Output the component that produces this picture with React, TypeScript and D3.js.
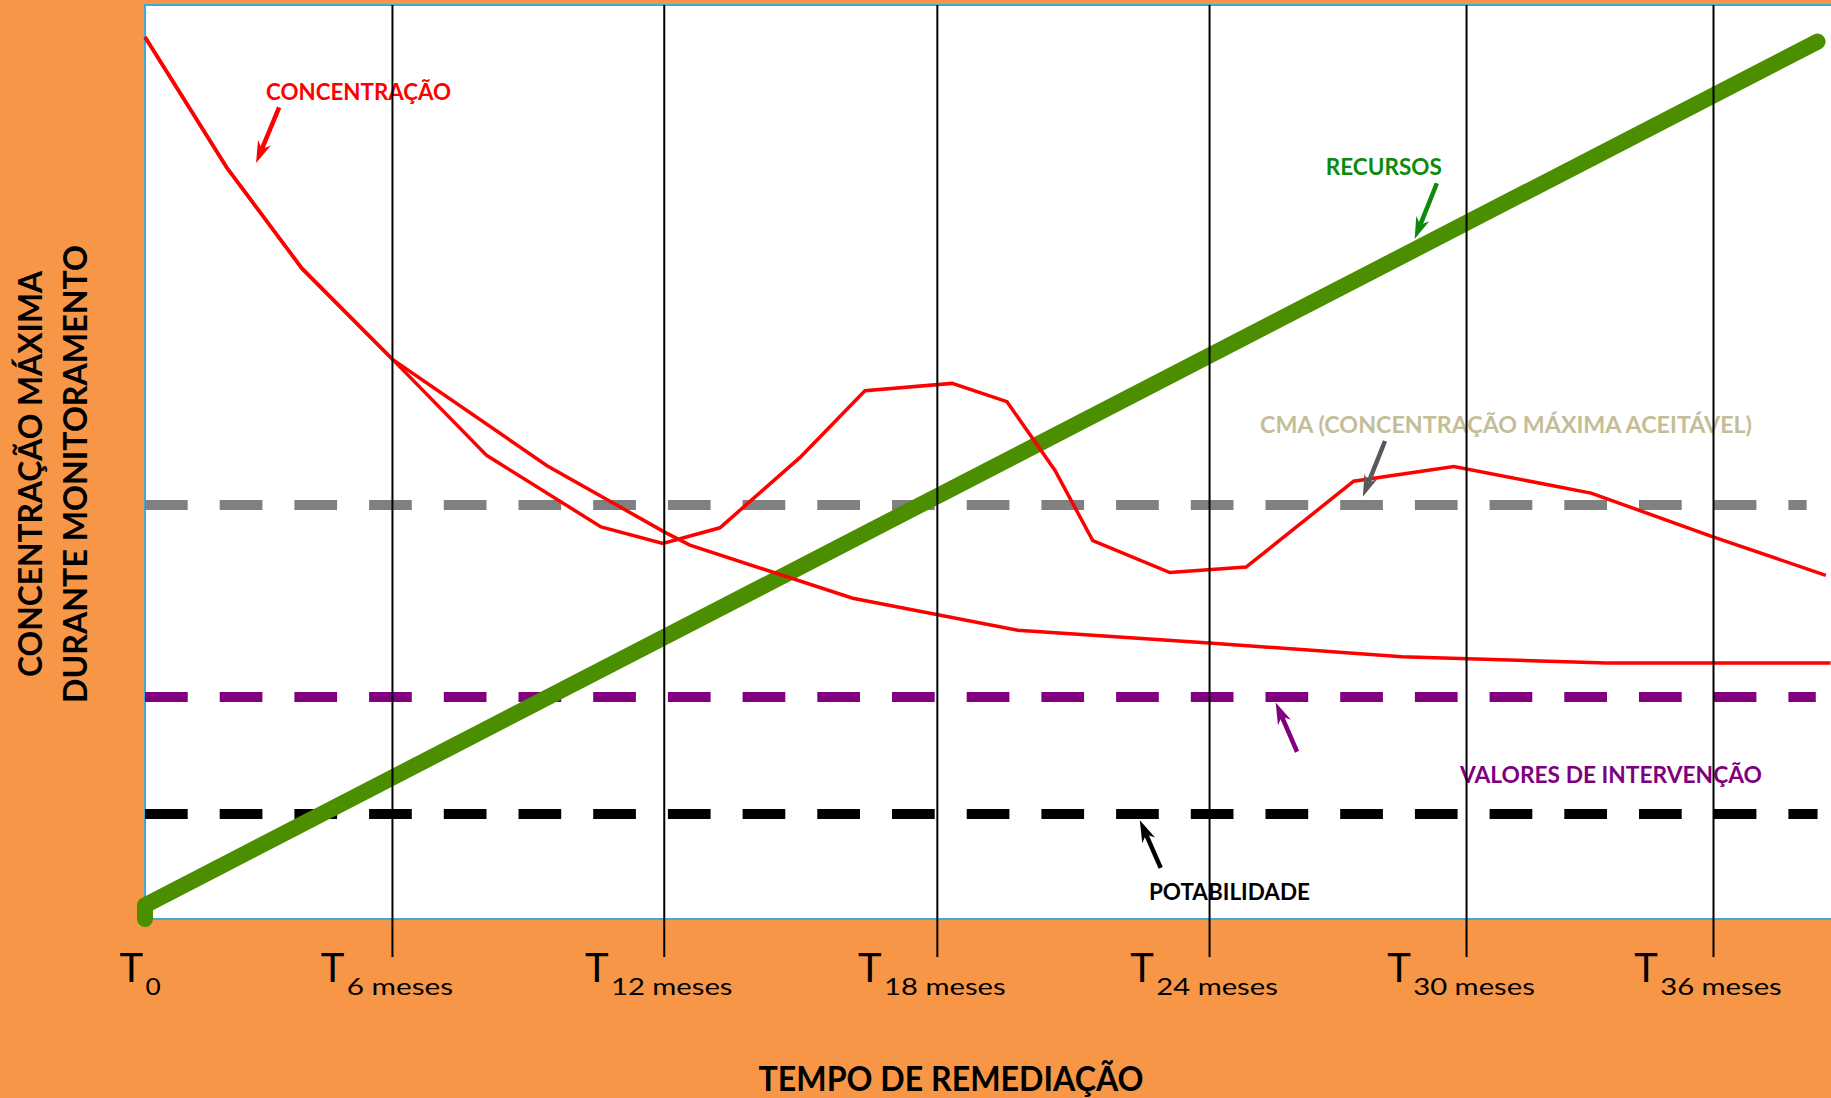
import React, { useEffect, useRef } from 'react'
import * as d3 from 'd3'

// positions of the month markers (months)
const tickAt = [0, 5.67, 11.91, 18.18, 24.43, 30.33, 36]
const tickSub = ['0', '6 meses', '12 meses', '18 meses', '24 meses', '30 meses', '36 meses']

// concentration curve that keeps falling
const decayX = [0, 1.88, 3.6, 5.69, 9.23, 11.94, 12.51, 16.25, 20.04, 24.43, 28.86, 33.56, 38.7]
const decayY = [96.5, 82.2, 71.2, 61.2, 49.6, 42.3, 40.9, 35.1, 31.6, 30.2, 28.7, 28.0, 28.0]

// concentration curve with rebounds
const reboundX = [0, 1.88, 3.6, 5.69, 7.85, 10.47, 11.89, 13.2, 15.04, 16.53, 18.53, 19.79, 20.89, 21.76, 23.53, 25.28, 27.75, 30.05, 33.2, 35.95, 38.59]
const reboundY = [96.5, 82.2, 71.2, 61.2, 50.7, 42.9, 41.1, 42.8, 50.5, 57.8, 58.6, 56.6, 49.1, 41.4, 37.9, 38.5, 47.9, 49.5, 46.6, 41.9, 37.6]

// resources spent
const recursosX = [0, 0, 38.4]
const recursosY = [0, 1.5, 96]

// reference levels
const limitNames = ['CMA', 'INTERVENCAO', 'POTABILIDADE']
const limitValues = [45.3, 24.3, 11.5]
const limitEnds = [38.15, 38.36, 38.4]
const limitColors = ['#808080', '#800080', '#000000']

// annotations: label, text anchor (month, value), arrow start, arrow tip
const noteText = ['CONCENTRAÇÃO', 'RECURSOS', 'CMA (CONCENTRAÇÃO MÁXIMA ACEITÁVEL)', 'VALORES DE INTERVENÇÃO', 'POTABILIDADE']
const noteX = [2.78, 27.11, 25.6, 30.19, 23.05]
const noteY = [89.6, 81.4, 53.2, 14.9, 2.1]
const noteWidth = [185, 116, 492, 302, 161]
const noteColor = ['#ff0000', '#0b8a0b', '#c4bd97', '#7f007f', '#000000']
const arrowColor = ['#ff0000', '#0b8a0b', '#595959', '#800080', '#000000']
const arrowFrom = [[3.08, 88.8], [29.66, 80.5], [28.47, 52.3], [26.45, 18.3], [23.32, 5.6]]
const arrowTo = [[2.55, 82.7], [29.15, 74.4], [27.96, 46.2], [25.96, 23.7], [22.84, 10.8]]

export default function App() {
  const svgRef = useRef<SVGSVGElement>(null)

  useEffect(() => {
    if (!svgRef.current) return
    const svg = d3.select(svgRef.current)
    svg.selectAll('*').remove()

    const width = 1831
    const height = 1098
    const margin = { top: 5, left: 145, bottom: 179 }
    const plotBottom = height - margin.bottom

    const x = d3.scaleLinear().domain([0, 36]).range([margin.left, 1713])
    const y = d3.scaleLinear().domain([0, 100]).range([plotBottom, margin.top])

    svg.append('rect').attr('width', width).attr('height', height).attr('fill', '#f79646')

    svg
      .append('rect')
      .attr('x', margin.left)
      .attr('y', margin.top)
      .attr('width', width - margin.left + 20)
      .attr('height', plotBottom - margin.top)
      .attr('fill', '#ffffff')
      .attr('stroke', '#3fa9dd')
      .attr('stroke-width', 2)

    const line = d3
      .line<[number, number]>()
      .x((d) => x(d[0]))
      .y((d) => y(d[1]))

    // dashed reference levels
    limitNames.forEach((name, i) => {
      svg
        .append('path')
        .attr('class', `limit-${name}`)
        .attr('d', line([[0, limitValues[i]], [limitEnds[i], limitValues[i]]]))
        .attr('fill', 'none')
        .attr('stroke', limitColors[i])
        .attr('stroke-width', 10)
        .attr('stroke-dasharray', '42.7,32')
    })

    // resources
    svg
      .append('path')
      .attr('d', line(recursosX.map((v, i) => [v, recursosY[i]] as [number, number])))
      .attr('fill', 'none')
      .attr('stroke', '#4b8f00')
      .attr('stroke-width', 16)
      .attr('stroke-linecap', 'round')
      .attr('stroke-linejoin', 'round')

    // concentration curves
    ;[
      decayX.map((v, i) => [v, decayY[i]] as [number, number]),
      reboundX.map((v, i) => [v, reboundY[i]] as [number, number]),
    ].forEach((pts) => {
      svg
        .append('path')
        .attr('d', line(pts))
        .attr('fill', 'none')
        .attr('stroke', '#ff0000')
        .attr('stroke-width', 3.5)
    })

    // annotations with arrows
    noteText.forEach((t, i) => {
      svg
        .append('text')
        .attr('x', x(noteX[i]))
        .attr('y', y(noteY[i]))
        .attr('textLength', noteWidth[i])
        .attr('lengthAdjust', 'spacingAndGlyphs')
        .style('font-family', 'Lato, sans-serif')
        .style('font-weight', '700')
        .style('font-size', '22px')
        .style('fill', noteColor[i])
        .text(t)

      const x1 = x(arrowFrom[i][0])
      const y1 = y(arrowFrom[i][1])
      const x2 = x(arrowTo[i][0])
      const y2 = y(arrowTo[i][1])
      const ang = Math.atan2(y2 - y1, x2 - x1)
      const headLen = 22
      const half = 7
      const bx = x2 - headLen * Math.cos(ang)
      const by = y2 - headLen * Math.sin(ang)
      const nx = x2 - headLen * 0.7 * Math.cos(ang)
      const ny = y2 - headLen * 0.7 * Math.sin(ang)
      const px = -Math.sin(ang)
      const py = Math.cos(ang)
      svg
        .append('line')
        .attr('x1', x1)
        .attr('y1', y1)
        .attr('x2', nx)
        .attr('y2', ny)
        .attr('stroke', arrowColor[i])
        .attr('stroke-width', 4.5)
      svg
        .append('path')
        .attr(
          'd',
          `M${x2},${y2}L${bx + px * half},${by + py * half}L${nx},${ny}L${bx - px * half},${by - py * half}Z`
        )
        .attr('fill', arrowColor[i])
    })

    // vertical month lines
    const grid = svg
      .append('g')
      .attr('transform', `translate(0,${plotBottom + 38})`)
      .call(
        d3
          .axisBottom(x)
          .tickValues(tickAt.slice(1))
          .tickSize(-(plotBottom + 38 - margin.top))
          .tickFormat(() => '')
      )
    grid.select('.domain').remove()
    grid.selectAll('.tick line').attr('stroke', '#000').attr('stroke-width', 2)

    // tick labels: T with subscript
    tickAt.forEach((t, i) => {
      const subW = 15.2 * tickSub[i].length
      const total = 26 + subW
      const left = x(t) - 5 - total / 2
      svg
        .append('text')
        .attr('x', left)
        .attr('y', 982)
        .style('font-family', 'Lato, sans-serif')
        .style('font-size', '40px')
        .style('fill', '#000')
        .text('T')
      svg
        .append('text')
        .attr('x', left + 26)
        .attr('y', 995)
        .attr('textLength', subW)
        .attr('lengthAdjust', 'spacingAndGlyphs')
        .style('font-family', 'Lato, sans-serif')
        .style('font-size', '24px')
        .style('fill', '#000')
        .text(tickSub[i])
    })

    // axis titles
    svg
      .append('text')
      .attr('x', 951)
      .attr('y', 1091)
      .attr('text-anchor', 'middle')
      .attr('textLength', 385)
      .attr('lengthAdjust', 'spacingAndGlyphs')
      .style('font-family', 'Lato, sans-serif')
      .style('font-weight', '700')
      .style('font-size', '34px')
      .text('TEMPO DE REMEDIAÇÃO')

    const yTitle = [
      { text: 'CONCENTRAÇÃO MÁXIMA', bx: 42, len: 406 },
      { text: 'DURANTE MONITORAMENTO', bx: 87, len: 458 },
    ]
    yTitle.forEach((l) => {
      svg
        .append('text')
        .attr('transform', `translate(${l.bx},474) rotate(-90)`)
        .attr('text-anchor', 'middle')
        .attr('textLength', l.len)
        .attr('lengthAdjust', 'spacingAndGlyphs')
        .style('font-family', 'Lato, sans-serif')
        .style('font-weight', '700')
        .style('font-size', '32px')
        .text(l.text)
    })
  }, [])

  return (
    <div style={{ position: 'absolute', left: 0, top: 0 }}>
      <svg ref={svgRef} width={1831} height={1098} style={{ display: 'block' }} />
    </div>
  )
}
